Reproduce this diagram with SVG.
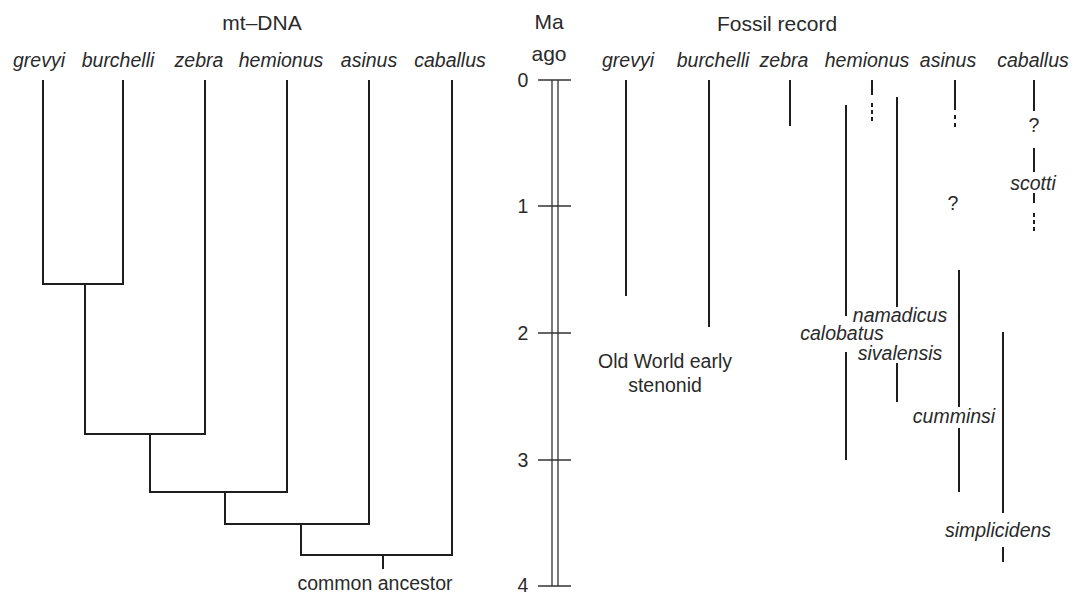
<svg xmlns="http://www.w3.org/2000/svg" width="1074" height="594" viewBox="0 0 1074 594">
<style>
.t{font-family:"Liberation Sans",Arial,sans-serif;fill:#2a2a2a;text-anchor:middle}
.h{font-size:21px}
.n{font-size:19.5px}
.i{font-size:19.5px;font-style:italic}
.ln{stroke:#1e1e1e;stroke-width:2;fill:none;stroke-linecap:butt}
.th{stroke:#333;stroke-width:1.3;fill:none}
</style>
<rect width="1074" height="594" fill="#fff"/>
<g id="titles">
<text class="t h" x="262" y="30">mt–DNA</text>
<text class="t h" x="777" y="31">Fossil record</text>
<text class="t h" x="549" y="29">Ma</text>
<text class="t h" x="549" y="61">ago</text>
</g>
<g id="mt-labels">
<text class="t i" x="39" y="67">grevyi</text>
<text class="t i" x="118" y="67">burchelli</text>
<text class="t i" x="199" y="67">zebra</text>
<text class="t i" x="281" y="67">hemionus</text>
<text class="t i" x="369" y="67">asinus</text>
<text class="t i" x="450" y="67">caballus</text>
<text class="t n" x="375" y="590">common ancestor</text>
</g>
<g id="connectors">
<path class="ln" d="M43,80V284H123V80 M85,284V434H205V80 M150,434V492H287V80 M225,492V524H369V80 M301,524V555H452V80 M383,555V569"/>
</g>
<g id="timescale">
<path class="th" d="M552,80V586 M558,80V586 M538,80H571 M538,206H571 M538,333H571 M538,460H571 M538,586H571"/>
<text class="t n" x="523" y="87">0</text>
<text class="t n" x="523" y="213">1</text>
<text class="t n" x="523" y="340">2</text>
<text class="t n" x="523" y="467">3</text>
<text class="t n" x="523" y="592">4</text>
</g>
<g id="fossil-labels">
<text class="t i" x="628" y="67">grevyi</text>
<text class="t i" x="713" y="67">burchelli</text>
<text class="t i" x="784" y="67">zebra</text>
<text class="t i" x="867" y="67">hemionus</text>
<text class="t i" x="948" y="67">asinus</text>
<text class="t i" x="1033" y="67">caballus</text>
</g>
<g id="fossil-ranges">
<path class="ln" d="M626,80V296 M709,80V327 M790,80V126 M846,105V316 M846,352V460 M897,97V307 M897,363V402 M959,270V407 M959,428V492 M1003,332V513 M1003,547V562 M872,80V95 M955,80V110 M1034,80V111 M1034,148V172 M1034,193V203"/>
<path class="ln" d="M872,103V107 M872,110V114 M872,117V121 M955,115V119 M955,123V127 M1034,213V217 M1034,220V224 M1034,227V231"/>
</g>
<g id="fossil-names">
<text class="t n" x="665" y="368">Old World early</text>
<text class="t n" x="665" y="392">stenonid</text>
<text class="t i" x="900" y="322">namadicus</text>
<text class="t i" x="842" y="340">calobatus</text>
<text class="t i" x="900" y="360">sivalensis</text>
<text class="t i" x="954" y="423">cumminsi</text>
<text class="t i" x="998" y="537">simplicidens</text>
<text class="t i" x="1033" y="190">scotti</text>
<text class="t n" x="1034" y="132">?</text>
<text class="t n" x="953" y="210">?</text>
</g>
</svg>
